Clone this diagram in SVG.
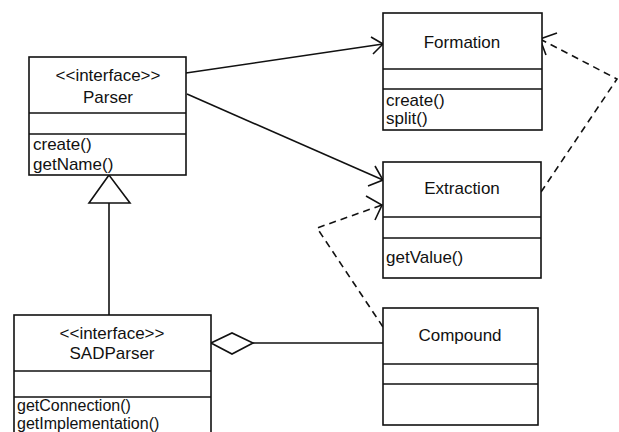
<svg xmlns="http://www.w3.org/2000/svg" width="619" height="432" viewBox="0 0 619 432">
<style>
.box{fill:#fff;stroke:#111;stroke-width:1.6}
.div{stroke:#111;stroke-width:1.6}
text{font-family:"Liberation Sans",Arial,sans-serif;font-size:17px;fill:#111}
.c{text-anchor:middle}
.s{font-size:16px}
.ln{fill:none;stroke:#111;stroke-width:1.6}
.dash{fill:none;stroke:#111;stroke-width:1.6;stroke-dasharray:7,5}
</style>
<rect width="619" height="432" fill="#fff"/>
<g id="connectors">
<line class="ln" x1="186" y1="73" x2="383" y2="44"/>
<polyline class="ln" points="371,37 383,44 373,54"/>
<line class="ln" x1="187" y1="94" x2="383" y2="180"/>
<polyline class="ln" points="375,166 383,180 368,186"/>
<polyline class="dash" points="541,192 617,79 540,39"/>
<polyline class="ln" points="557,33 540,39 546,55"/>
<polyline class="dash" points="383,327 317,228 382,205"/>
<polyline class="ln" points="366,196 382,205 375,220"/>
<line class="ln" x1="109" y1="203" x2="109" y2="315"/>
<polygon class="ln" points="109,175 89,203 130,203" fill="#fff"/>
<line class="ln" x1="253" y1="343" x2="383" y2="343"/>
<polygon class="ln" points="211,343 232,333 253,343 232,354" fill="#fff"/>
</g>
<g id="Parser">
<rect class="box" x="29" y="57" width="157" height="118"/>
<line class="div" x1="29" y1="113" x2="186" y2="113"/>
<line class="div" x1="29" y1="134" x2="186" y2="134"/>
<text class="c" x="108" y="81">&lt;&lt;interface&gt;&gt;</text>
<text class="c" x="108" y="103">Parser</text>
<text x="33" y="150">create()</text>
<text x="33" y="170">getName()</text>
</g>
<g id="Formation">
<rect class="box" x="383" y="13" width="159" height="117"/>
<line class="div" x1="383" y1="69" x2="542" y2="69"/>
<line class="div" x1="383" y1="89" x2="542" y2="89"/>
<text class="c" x="462" y="48">Formation</text>
<text x="386" y="106">create()</text>
<text x="386" y="124">split()</text>
</g>
<g id="Extraction">
<rect class="box" x="383" y="162" width="158" height="116"/>
<line class="div" x1="383" y1="217" x2="541" y2="217"/>
<line class="div" x1="383" y1="238" x2="541" y2="238"/>
<text class="c" x="462" y="194">Extraction</text>
<text x="386" y="263">getValue()</text>
</g>
<g id="SADParser">
<rect class="box" x="14" y="315" width="197" height="130"/>
<line class="div" x1="14" y1="371" x2="211" y2="371"/>
<line class="div" x1="14" y1="397" x2="211" y2="397"/>
<text class="c" x="112" y="339">&lt;&lt;interface&gt;&gt;</text>
<text class="c" x="112" y="359">SADParser</text>
<text class="s" x="17" y="411">getConnection()</text>
<text class="s" x="17" y="429">getImplementation()</text>
</g>
<g id="Compound">
<rect class="box" x="383" y="308" width="155" height="117"/>
<line class="div" x1="383" y1="364" x2="538" y2="364"/>
<line class="div" x1="383" y1="384" x2="538" y2="384"/>
<text class="c" x="460" y="341">Compound</text>
</g>
</svg>
